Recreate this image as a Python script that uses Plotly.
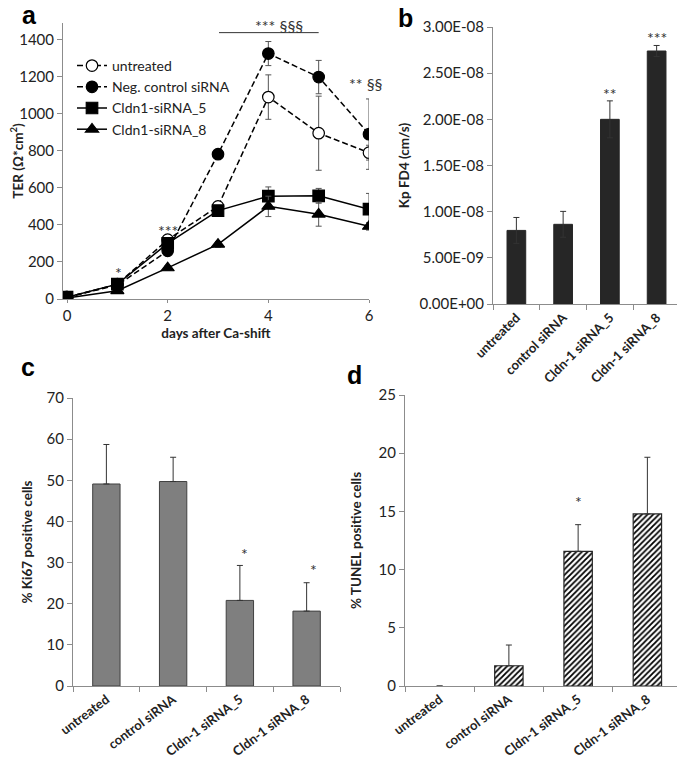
import plotly.graph_objects as go

# the page body keeps its default 8px margin, so the figure is drawn 8px in
PAGE_W, PAGE_H, OFF = 685, 767, 8
W, H = PAGE_W - OFF, PAGE_H - OFF
FONT = "Lato"

# panel a - TER time course
days = [0, 1, 2, 3, 4, 5, 6]
ter_untreated = [10, 80, 320, 500, 1090, 895, 790]
ter_untreated_err = [5, 10, 20, 20, 120, 200, 40]
ter_negctrl = [10, 75, 260, 782, 1325, 1198, 890]
ter_negctrl_err = [5, 10, 20, 25, 65, 90, 190]
ter_cldn5 = [10, 80, 300, 477, 555, 557, 485]
ter_cldn5_err = [5, 10, 15, 20, 50, 40, 85]
ter_cldn8 = [5, 45, 168, 295, 500, 458, 392]
ter_cldn8_err = [5, 8, 12, 15, 55, 65, 20]

groups = ["untreated", "control siRNA", "Cldn-1 siRNA_5", "Cldn-1 siRNA_8"]

# panel b - FD4 permeability
kp = [7.97e-9, 8.63e-9, 2.0e-8, 2.74e-8]
kp_err = [1.4e-9, 1.4e-9, 2.0e-9, 6.0e-10]

# panel c - Ki67
ki67 = [49.1, 49.7, 20.8, 18.2]
ki67_err = [9.6, 5.9, 8.5, 6.9]

# panel d - TUNEL
tunel = [0, 1.74, 11.57, 14.78]
tunel_err = [0, 1.78, 2.29, 4.87]


def px_x(p):
    return (p - OFF) / W


def px_y(p):
    return 1 - (p - OFF) / H


fig = go.Figure()

line_series = [
    ("untreated", ter_untreated, ter_untreated_err, "circle", "6px,3px", "white"),
    ("Neg. control siRNA", ter_negctrl, ter_negctrl_err, "circle", "6px,3px", "black"),
    ("Cldn1-siRNA_5", ter_cldn5, ter_cldn5_err, "square", "solid", "black"),
    ("Cldn1-siRNA_8", ter_cldn8, ter_cldn8_err, "triangle-up", "solid", "black"),
]
for name, vals, err, sym, dash, fill in line_series:
    fig.add_trace(go.Scatter(
        x=days, y=vals, name=name, mode="lines+markers",
        line=dict(color="black", width=1.5, dash=dash),
        marker=dict(symbol=sym, size=11.5, color=fill, line=dict(color="black", width=1.2)),
        error_y=dict(type="data", array=err, color="#555555", thickness=1, width=3),
        xaxis="x", yaxis="y",
    ))

bar_err_style = dict(color="#333333", thickness=1, width=3)

fig.add_trace(go.Bar(
    x=groups, y=kp, marker=dict(color="#262626", line=dict(color="#262626", width=1)),
    width=0.4, error_y=dict(type="data", array=kp_err, **bar_err_style),
    xaxis="x2", yaxis="y2", showlegend=False,
))
fig.add_trace(go.Bar(
    x=groups, y=ki67, marker=dict(color="#7f7f7f", line=dict(color="#404040", width=1)),
    width=0.41, error_y=dict(type="data", symmetric=False, array=ki67_err,
                             arrayminus=[0] * 4, **bar_err_style),
    xaxis="x3", yaxis="y3", showlegend=False,
))
fig.add_trace(go.Bar(
    x=groups, y=tunel,
    marker=dict(color="white", line=dict(color="#262626", width=[0, 1.2, 1.2, 1.2]),
                pattern=dict(shape="/", fgcolor="black", bgcolor="white", size=4, solidity=0.45)),
    width=0.41, error_y=dict(type="data", symmetric=False, array=tunel_err,
                             arrayminus=[0] * 4, **bar_err_style),
    xaxis="x4", yaxis="y4", showlegend=False,
))

axis_line = dict(showline=True, linecolor="#8c8c8c", linewidth=1, showgrid=False,
                 zeroline=False, ticks="outside", tickcolor="#8c8c8c", ticklen=5,
                 automargin=False,
                 tickfont=dict(family=FONT, size=15, color="#222222"))
cat_font = dict(family=FONT, size=13, color="#222222", weight="bold")
cat_axis = dict(axis_line, tickson="boundaries", ticklen=5, range=[-0.5, 3.5],
                tickfont=cat_font)
title_font = dict(family=FONT, size=13.5, color="#222222", weight="bold")

fig.update_layout(
    template="none",
    width=W, height=H, margin=dict(l=0, r=0, t=0, b=0, pad=0),
    paper_bgcolor="white", plot_bgcolor="white",
    font=dict(family=FONT, color="#222222"),
    xaxis=dict(axis_line, domain=[px_x(63), px_x(369)], range=[-0.08, 6.0],
               tickvals=[0, 2, 4, 6], ticklen=3, anchor="y",
               title=dict(text="days after Ca-shift", font=title_font, standoff=5)),
    yaxis=dict(axis_line, domain=[px_y(299), px_y(23)], range=[0, 1490],
               tickvals=list(range(0, 1401, 200)), anchor="x",
               title=dict(text="TER (Ω*cm<sup>2</sup>)", font=title_font, standoff=8)),
    xaxis2=dict(cat_axis, domain=[px_x(493), px_x(680)], anchor="y2", tickangle=-45),
    yaxis2=dict(axis_line, domain=[px_y(304), px_y(27)], range=[0, 3e-8],
                tickvals=[0, 5e-9, 1e-8, 1.5e-8, 2e-8, 2.5e-8, 3e-8],
                ticktext=["0.00E+00", "5.00E-09", "1.00E-08", "1.50E-08",
                          "2.00E-08", "2.50E-08", "3.00E-08"],
                anchor="x2",
                title=dict(text="Kp FD4 (cm/s)", font=title_font, standoff=6)),
    xaxis3=dict(cat_axis, domain=[px_x(73), px_x(340)], anchor="y3", tickangle=-37),
    yaxis3=dict(axis_line, domain=[px_y(686), px_y(398)], range=[0, 70],
                tickvals=list(range(0, 71, 10)), anchor="x3",
                title=dict(text="% Ki67 positive cells", font=title_font, standoff=10)),
    xaxis4=dict(cat_axis, domain=[px_x(405), px_x(682)], anchor="y4", tickangle=-37),
    yaxis4=dict(axis_line, domain=[px_y(686), px_y(395)], range=[0, 25],
                tickvals=list(range(0, 26, 5)), anchor="x4",
                title=dict(text="% TUNEL positive cells", font=title_font, standoff=13)),
    legend=dict(x=px_x(72), y=px_y(50), xanchor="left", yanchor="top",
                bgcolor="rgba(0,0,0,0)", tracegroupgap=0, itemwidth=30,
                font=dict(family=FONT, size=14, color="#222222")),
    bargap=0.6,
)

# significance marks, placed at their pixel spots in the original figure
star_font = dict(family=FONT, size=16, color="#333333")
stars = [
    (118, 268, "*"), (168, 227, "***"), (279, 25, "*** §§§"), (366, 83, "** §§"),
    (610, 90, "**"), (657, 34, "***"),
    (244, 549, "*"), (313, 565, "*"),
    (578, 497, "*"),
]
for px, py, txt in stars:
    shift = 4 if "§" not in txt else 1
    fig.add_annotation(x=px_x(px), y=px_y(py + shift), xref="paper", yref="paper", text=txt,
                       showarrow=False, font=star_font, xanchor="center", yanchor="middle")

fig.add_shape(type="line", xref="x", yref="y", x0=3.02, x1=5.0, y0=1438, y1=1438,
              line=dict(color="#333333", width=1))

for lbl, px, py in [("a", 30, 15), ("b", 405, 18), ("c", 28, 367), ("d", 354, 375)]:
    fig.add_annotation(x=px_x(px), y=px_y(py), xref="paper", yref="paper", text=lbl,
                       showarrow=False, xanchor="center", yanchor="middle",
                       font=dict(family="Liberation Sans", size=25, color="black", weight="bold"))

fig.write_html("out.html")
